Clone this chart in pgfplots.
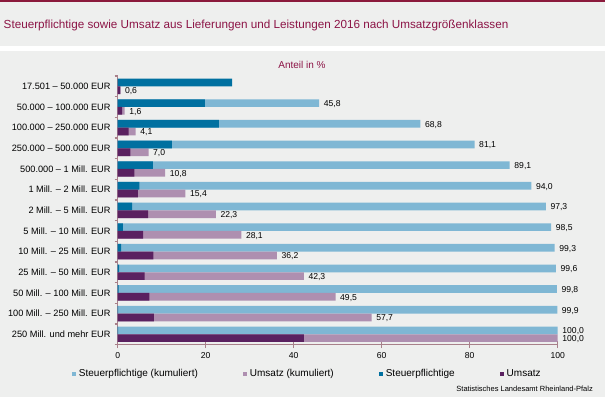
\documentclass[border=0pt]{standalone}
\usepackage{fontspec}
\setmainfont{Liberation Sans}
\usepackage{pgfplots}
\pgfplotsset{compat=1.18}
\usepackage{pgfplotstable}
\definecolor{bg}{RGB}{238,239,238}
\definecolor{wine}{RGB}{139,26,60}
\definecolor{titlecol}{RGB}{140,20,70}
\definecolor{axiscol}{RGB}{168,128,138}
\definecolor{lblue}{RGB}{127,183,212}
\definecolor{dblue}{RGB}{0,112,160}
\definecolor{lpurple}{RGB}{174,143,176}
\definecolor{dpurple}{RGB}{90,33,96}
\pgfplotsset{sqlegend/.style={legend image code/.code={\fill[##1,draw=none] (0pt,-2pt) rectangle (4pt,2pt);}}}

% Steuerpflichtige (kumuliert); first class hidden under its own single bar
\pgfplotstableread{
y v
11 45.8
10 68.8
9 81.1
8 89.1
7 94.0
6 97.3
5 98.5
4 99.3
3 99.6
2 99.8
1 99.9
0 100.0
}\stkum
% Steuerpflichtige
\pgfplotstableread{
y v
12 26.0
11 19.8
10 23.0
9 12.3
8 8.0
7 4.9
6 3.3
5 1.2
4 0.8
3 0.3
2 0.2
1 0.1
0 0.1
}\st
% Umsatz (kumuliert)
\pgfplotstableread{
y v
12 0.6
11 1.6
10 4.1
9 7.0
8 10.8
7 15.4
6 22.3
5 28.1
4 36.2
3 42.3
2 49.5
1 57.7
0 100.0
}\umkum
% Umsatz
\pgfplotstableread{
y v
12 0.6
11 1.0
10 2.5
9 2.9
8 3.8
7 4.6
6 6.9
5 5.8
4 8.1
3 6.1
2 7.2
1 8.2
0 42.3
}\um

\begin{document}
\begin{tikzpicture}
\fill[bg] (0,0) rectangle (605pt,397pt);
\fill[wine] (0,395pt) rectangle (605pt,397pt);
\fill[white] (0,346pt) rectangle (605pt,351pt);
\node[anchor=base west, font=\fontsize{11.7}{14}\selectfont, text=titlecol, inner sep=0pt] at (3.5pt,368pt) {Steuerpflichtige sowie Umsatz aus Lieferungen und Leistungen 2016 nach Umsatzgrößenklassen};
\node[anchor=base, font=\fontsize{10}{12}\selectfont, text=titlecol, inner sep=0pt] at (302pt,328pt) {Anteil in \%};
\node[anchor=east, font=\fontsize{7.5}{9}\selectfont, inner sep=0pt] at (593pt,8pt) {Statistisches Landesamt Rheinland-Pfalz};

\begin{axis}[
  at={(117.7pt,52.4pt)}, anchor=south west,
  width=440pt, height=268.6pt, scale only axis,
  xbar, bar width=7.7pt,
  xmin=0, xmax=100, ymin=-0.5, ymax=12.5,
  axis x line*=bottom, axis y line*=left,
  axis line style={draw=axiscol, line width=1.2pt},
  /pgf/number format/assume math mode=true,
  xtick={0,20,...,100},
  tick align=center, major tick length=7pt,
  x tick style={draw=axiscol, line width=1.2pt},
  xticklabel style={font=\fontsize{8.6}{10}\selectfont, inner sep=0pt, yshift=-4.5pt},
  ytick={0,...,12},
  y tick style={draw=none},
  yticklabels={250 Mill. und mehr EUR, 100 Mill. – 250 Mill. EUR, 50 Mill. – 100 Mill. EUR, 25 Mill. – 50 Mill. EUR, 10 Mill. – 25 Mill. EUR, 5 Mill. – 10 Mill. EUR, 2 Mill. – 5 Mill. EUR, 1 Mill. – 2 Mill. EUR, 500.000 – 1 Mill. EUR, 250.000 – 500.000 EUR, 100.000 – 250.000 EUR, 50.000 – 100.000 EUR, 17.501 – 50.000 EUR},
  yticklabel style={font=\fontsize{9.2}{11}\selectfont, inner sep=0pt, anchor=east, xshift=-3.5pt},
  extra y ticks={-0.5,0.5,...,12.5},
  extra y tick labels={},
  extra y tick style={tick align=outside, major tick length=3pt, y tick style={draw=axiscol, line width=1.2pt}},
  legend columns=4,
  legend style={at={(-0.1039,-0.1076)}, anchor=west, draw=none, fill=none,
    inner sep=0pt, outer sep=0pt, font=\fontsize{10}{12}\selectfont,
    nodes={inner sep=0pt},
    /tikz/every odd column/.append style={column sep=3pt},
    /tikz/every even column/.append style={column sep=45pt}},
  every node near coord/.append style={font=\fontsize{8.6}{10}\selectfont, inner sep=0pt, anchor=west, xshift=4.5pt, yshift=-1pt, text=black},
  nodes near coords={\pgfmathprintnumber[fixed,fixed zerofill,precision=1,use comma]{\pgfplotspointmeta}},
]
\addplot[fill=lblue, draw=none, bar shift=3.85pt, point meta=x, sqlegend] table[x=v,y=y]{\stkum};
\addlegendentry{Steuerpflichtige (kumuliert)}
\addplot[fill=lpurple, draw=none, bar shift=-3.85pt, point meta=x, sqlegend] table[x=v,y=y]{\umkum};
\addlegendentry{Umsatz (kumuliert)}
\addplot[fill=dblue, draw=none, bar shift=3.85pt, nodes near coords={}, sqlegend] table[x=v,y=y]{\st};
\addlegendentry{Steuerpflichtige}
\addplot[fill=dpurple, draw=none, bar shift=-3.85pt, nodes near coords={}, sqlegend] table[x=v,y=y]{\um};
\addlegendentry{Umsatz}
\end{axis}
\pgfresetboundingbox
\path[use as bounding box] (0,0) rectangle (605pt,397pt);
\end{tikzpicture}
\end{document}
